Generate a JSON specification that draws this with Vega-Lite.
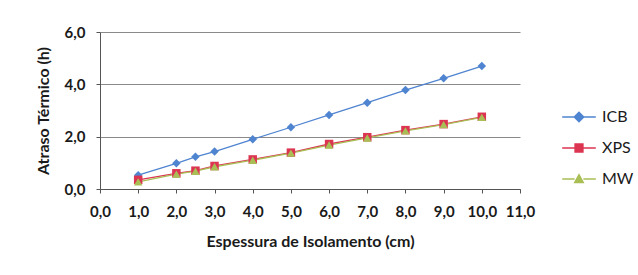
{
  "$schema": "https://vega.github.io/schema/vega-lite/v6.json",
  "width": 420,
  "height": 157,
  "autosize": {"type": "none"},
  "padding": {"left": 100, "top": 32, "right": 118, "bottom": 86},
  "background": "white",
  "config": {
    "font": "Lato",
    "view": {"stroke": null},
    "axis": {"labelFont": "Lato", "titleFont": "Lato", "labelFontWeight": "bold", "titleFontWeight": "bold", "labelColor": "#1a1a1a", "titleColor": "#1a1a1a"},
    "legend": {"title": null, "orient": "none", "legendX": 471, "legendY": 77, "labelFont": "Lato", "labelFontSize": 16, "labelColor": "#1a1a1a", "labelOffset": 15, "symbolSize": 64, "rowPadding": 15, "padding": 0, "symbolOpacity": 1, "symbolStrokeWidth": 1.3}
  },
  "data": {
    "values": [
      {"e": 1, "v": 0.53, "m": "ICB"}, {"e": 2, "v": 0.98, "m": "ICB"}, {"e": 2.5, "v": 1.23, "m": "ICB"}, {"e": 3, "v": 1.43, "m": "ICB"}, {"e": 4, "v": 1.9, "m": "ICB"}, {"e": 5, "v": 2.36, "m": "ICB"}, {"e": 6, "v": 2.83, "m": "ICB"}, {"e": 7, "v": 3.3, "m": "ICB"}, {"e": 8, "v": 3.78, "m": "ICB"}, {"e": 9, "v": 4.23, "m": "ICB"}, {"e": 10, "v": 4.7, "m": "ICB"},
      {"e": 1, "v": 0.35, "m": "XPS"}, {"e": 2, "v": 0.6, "m": "XPS"}, {"e": 2.5, "v": 0.7, "m": "XPS"}, {"e": 3, "v": 0.88, "m": "XPS"}, {"e": 4, "v": 1.13, "m": "XPS"}, {"e": 5, "v": 1.39, "m": "XPS"}, {"e": 6, "v": 1.72, "m": "XPS"}, {"e": 7, "v": 1.98, "m": "XPS"}, {"e": 8, "v": 2.25, "m": "XPS"}, {"e": 9, "v": 2.48, "m": "XPS"}, {"e": 10, "v": 2.76, "m": "XPS"},
      {"e": 1, "v": 0.27, "m": "MW"}, {"e": 2, "v": 0.57, "m": "MW"}, {"e": 2.5, "v": 0.68, "m": "MW"}, {"e": 3, "v": 0.85, "m": "MW"}, {"e": 4, "v": 1.1, "m": "MW"}, {"e": 5, "v": 1.37, "m": "MW"}, {"e": 6, "v": 1.68, "m": "MW"}, {"e": 7, "v": 1.95, "m": "MW"}, {"e": 8, "v": 2.22, "m": "MW"}, {"e": 9, "v": 2.46, "m": "MW"}, {"e": 10, "v": 2.74, "m": "MW"}
    ]
  },
  "encoding": {
    "x": {
      "field": "e", "type": "quantitative",
      "scale": {"domain": [0, 11], "nice": false},
      "axis": {"values": [0,1,2,3,4,5,6,7,8,9,10,11], "labelExpr": "replace(format(datum.value, '.1f'), '.', ',')", "grid": false, "domainColor": "#555", "tickColor": "#555", "tickSize": 4, "labelFontSize": 15, "labelPadding": 11, "title": "Espessura de Isolamento (cm)", "titleFontSize": 16, "titlePadding": 14, "labelFlush": false}
    },
    "y": {
      "field": "v", "type": "quantitative",
      "scale": {"domain": [0, 6], "nice": false},
      "axis": {"values": [0, 2, 4, 6], "labelExpr": "replace(format(datum.value, '.1f'), '.', ',')", "grid": true, "gridColor": "#8a8a8a", "gridWidth": 1, "domainColor": "#555", "tickColor": "#555", "tickSize": 4, "labelFontSize": 15, "labelPadding": 11, "title": "Atraso Térmico (h)", "titleFontSize": 16, "titlePadding": 13, "labelFlush": false}
    }
  },
  "layer": [
    {
      "mark": {"type": "line", "strokeWidth": 1.3},
      "encoding": {
        "order": {"field": "e"},
        "color": {"field": "m", "type": "nominal", "scale": {"domain": ["ICB", "XPS", "MW"], "range": ["#4f84d0", "#dc3552", "#a9bf55"]}, "legend": null}
      }
    },
    {
      "mark": {"type": "point", "filled": true, "opacity": 1, "size": 72},
      "encoding": {
        "color": {"field": "m", "type": "nominal", "scale": {"domain": ["ICB", "XPS", "MW"], "range": ["#4f84d0", "#dc3552", "#a9bf55"]}, "legend": null},
        "shape": {"field": "m", "type": "nominal", "scale": {"domain": ["ICB", "XPS", "MW"], "range": ["diamond", "square", "triangle-up"]}, "legend": null}
      }
    },
    {
      "mark": {"type": "point", "opacity": 0, "size": 64},
      "encoding": {
        "fill": {"field": "m", "type": "nominal", "scale": {"domain": ["ICB", "XPS", "MW"], "range": ["#4f84d0", "#dc3552", "#a9bf55"]}},
        "stroke": {"field": "m", "type": "nominal", "scale": {"domain": ["ICB", "XPS", "MW"], "range": ["#4f84d0", "#dc3552", "#a9bf55"]}},
        "shape": {"field": "m", "type": "nominal", "scale": {"domain": ["ICB", "XPS", "MW"], "range": ["M-4.2,0H-1.2M1.2,0H4.2M-1.2,0L0,-1.2L1.2,0L0,1.2Z", "M-4.2,0H-1M1,0H4.2M-1,-1H1V1H-1Z", "M-4.2,0H-1.1M1.1,0H4.2M-1.1,0.9L0,-1.1L1.1,0.9Z"]}}
      }
    }
  ],
  "resolve": {"scale": {"shape": "independent", "fill": "independent", "stroke": "independent"}}
}
